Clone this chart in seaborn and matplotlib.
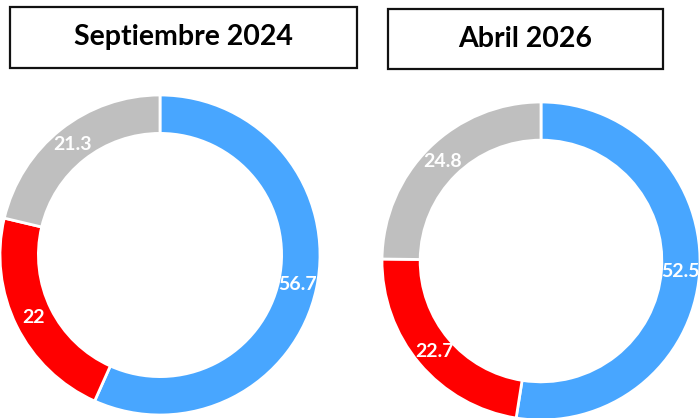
import matplotlib
matplotlib.use("Agg")
import matplotlib.pyplot as plt
import seaborn as sns
from matplotlib.patches import Rectangle

sns.set_theme(style="white")
plt.rcParams['font.family'] = ['Lato', 'DejaVu Sans']

# Datos
categorias = ['Azul', 'Rojo', 'Gris']
sep_2024 = [56.7, 22, 21.3]
abr_2026 = [52.5, 22.7, 24.8]
titulos = ['Septiembre 2024', 'Abril 2026']
colores = sns.color_palette(['#48A6FF', '#FF0000', '#BFBFBF'])

W, H = 700, 418
fig = plt.figure(figsize=(W / 100, H / 100), dpi=100)


def px_axes(x0, y0, w, h):
    # pixel box (origen arriba-izquierda) -> coordenadas de figura
    return [x0 / W, (H - y0 - h) / H, w / W, h / H]


def fmt(p):
    return f'{p:.1f}'.rstrip('0').rstrip('.')


def donut(ax, valores):
    wedges, _, autotexts = ax.pie(
        valores, colors=colores, startangle=90, counterclock=False,
        radius=1, autopct=fmt, pctdistance=0.88,
        wedgeprops=dict(width=0.24, edgecolor='white', linewidth=2))
    for t in autotexts:
        t.set_color('white')
        t.set_fontweight('bold')
        t.set_fontsize(14)
    ax.set_xlim(-1, 1)
    ax.set_ylim(-1, 1)
    ax.set_aspect('equal')
    ax.axis('off')


ax1 = fig.add_axes(px_axes(0, 95, 320, 320))
donut(ax1, sep_2024)
ax2 = fig.add_axes(px_axes(382, 102, 318, 318))
donut(ax2, abr_2026)

# Cajas de título
cajas = [(10, 7, 347, 61), (388, 9, 275, 60)]
for (x0, y0, w, h), titulo in zip(cajas, titulos):
    fig.patches.append(Rectangle((x0 / W, (H - y0 - h) / H), w / W, h / H,
                                 transform=fig.transFigure, fill=False,
                                 edgecolor='#111111', linewidth=1.6))
    fig.text((x0 + w / 2) / W, (H - y0 - h / 2) / H, titulo,
             ha='center', va='center', fontsize=20.5, fontweight='bold',
             color='black')

fig.savefig('out.png', dpi=100)
